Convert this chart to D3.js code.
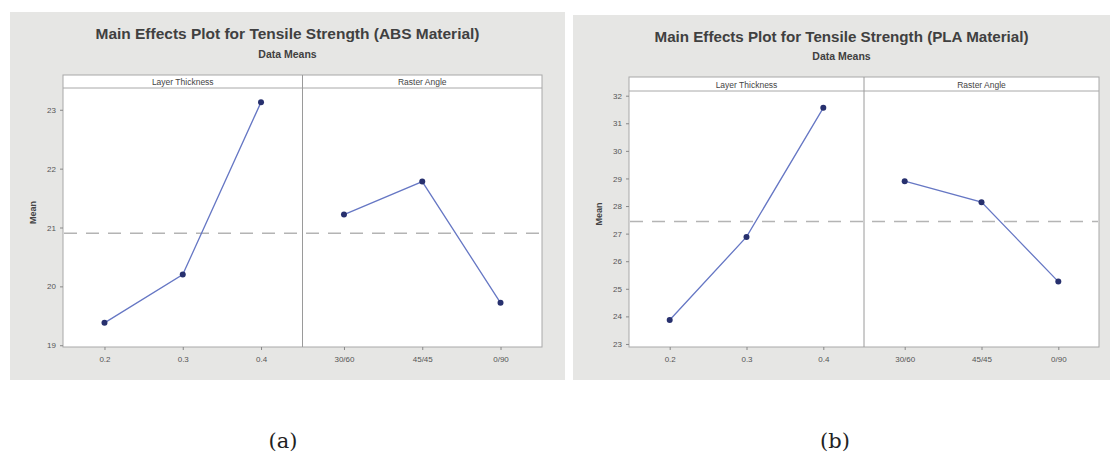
<!DOCTYPE html>
<html>
<head>
<meta charset="utf-8">
<script src="https://cdn.jsdelivr.net/npm/d3@7"></script>
<style>
  html, body { margin: 0; padding: 0; background: #ffffff; }
  svg { display: block; }
  text { font-family: "Liberation Sans", Arial, sans-serif; }
</style>
</head>
<body>
<svg id="chart" width="1110" height="462"></svg>
<script>
// ---- Data ----
const factorNames = ["Layer Thickness", "Raster Angle"];
const layerLevels = ["0.2", "0.3", "0.4"];
const rasterLevels = ["30/60", "45/45", "0/90"];

const absLayer = [19.38, 20.20, 23.13];
const absRaster = [21.22, 21.78, 19.72];
const plaLayer = [23.87, 26.88, 31.56];
const plaRaster = [28.90, 28.14, 25.26];

const absTicks = [19, 20, 21, 22, 23];
const plaTicks = [23, 24, 25, 26, 27, 28, 29, 30, 31, 32];

const titles = [
  "Main Effects Plot for Tensile Strength (ABS Material)",
  "Main Effects Plot for Tensile Strength (PLA Material)"
];
const subtitle = "Data Means";
const yLabel = "Mean";
const captions = ["(a)", "(b)"];

// ---- Layout ----
const svg = d3.select("#chart");

const panels = [
  {
    bg: {x: 10, y: 12, w: 555, h: 368},
    plot: {x0: 63, x1: 542, top: 75, strip: 88, bottom: 347},
    yDomain: [18.97, 23.37],
    ticks: absTicks,
    layer: absLayer, raster: absRaster,
    title: titles[0], titleY: 39, titleW: 384, subY: 58, caption: captions[0], capX: 283
  },
  {
    bg: {x: 573, y: 15, w: 537, h: 365},
    plot: {x0: 629, x1: 1099, top: 77, strip: 91, bottom: 347},
    yDomain: [22.89, 32.17],
    ticks: plaTicks,
    layer: plaLayer, raster: plaRaster,
    title: titles[1], titleY: 42, titleW: 374, subY: 60, caption: captions[1], capX: 835
  }
];

panels.forEach(p => {
  const g = svg.append("g");
  const P = p.plot;
  const mid = (P.x0 + P.x1) / 2;
  const bgMid = p.bg.x + p.bg.w / 2;

  g.append("rect")
    .attr("x", p.bg.x).attr("y", p.bg.y)
    .attr("width", p.bg.w).attr("height", p.bg.h)
    .attr("fill", "#e6e6e4");

  // titles
  g.append("text")
    .attr("x", bgMid).attr("y", p.titleY)
    .attr("text-anchor", "middle")
    .attr("font-size", 15).attr("font-weight", "bold").attr("fill", "#404040")
    .attr("textLength", p.titleW).attr("lengthAdjust", "spacingAndGlyphs")
    .text(p.title);
  g.append("text")
    .attr("x", bgMid).attr("y", p.subY)
    .attr("text-anchor", "middle")
    .attr("font-size", 10.5).attr("font-weight", "bold").attr("fill", "#404040")
    .text(subtitle);

  // plot area
  g.append("rect")
    .attr("x", P.x0).attr("y", P.top)
    .attr("width", P.x1 - P.x0).attr("height", P.bottom - P.top)
    .attr("fill", "#ffffff").attr("stroke", "#a8a8a8").attr("stroke-width", 1);
  g.append("line")
    .attr("x1", P.x0).attr("x2", P.x1).attr("y1", P.strip).attr("y2", P.strip)
    .attr("stroke", "#a8a8a8");
  g.append("line")
    .attr("x1", mid).attr("x2", mid).attr("y1", P.top).attr("y2", P.bottom)
    .attr("stroke", "#9a9a9a");

  // strip labels
  [[P.x0, mid], [mid, P.x1]].forEach((r, i) => {
    g.append("text")
      .attr("x", (r[0] + r[1]) / 2).attr("y", P.strip - 3.5)
      .attr("text-anchor", "middle")
      .attr("font-size", 8.5).attr("fill", "#444")
      .text(factorNames[i]);
  });

  // y scale & axis
  const y = d3.scaleLinear().domain(p.yDomain).range([P.bottom, P.strip]);
  const yAxis = g.append("g")
    .attr("transform", `translate(${P.x0},0)`)
    .call(d3.axisLeft(y).tickValues(p.ticks).tickSize(3).tickPadding(4).tickFormat(d3.format("d")));
  yAxis.select(".domain").remove();
  yAxis.selectAll("line").attr("stroke", "#888");
  yAxis.selectAll("text").attr("font-size", 8).attr("fill", "#555")
    .style("font-family", "'Liberation Sans', Arial, sans-serif");

  g.append("text")
    .attr("transform", `translate(${P.x0 - 27},${(P.strip + P.bottom) / 2 - 5}) rotate(-90)`)
    .attr("text-anchor", "middle")
    .attr("font-size", 9).attr("font-weight", "bold").attr("fill", "#444")
    .text(yLabel);

  // grand mean
  const grandMean = d3.mean(p.layer);

  const groups = [
    {levels: layerLevels, values: p.layer, range: [P.x0, mid]},
    {levels: rasterLevels, values: p.raster, range: [mid, P.x1]}
  ];

  // dashed reference line
  g.append("line")
    .attr("x1", P.x0 + 1).attr("x2", P.x1 - 1)
    .attr("y1", y(grandMean)).attr("y2", y(grandMean))
    .attr("stroke", "#b4b4b4").attr("stroke-width", 1.6)
    .attr("stroke-dasharray", "13,9");

  groups.forEach(gr => {
    const x = d3.scalePoint().domain(gr.levels).range(gr.range).padding(0.53);
    const xAxis = g.append("g")
      .attr("transform", `translate(0,${P.bottom})`)
      .call(d3.axisBottom(x).tickSize(3).tickPadding(6));
    xAxis.select(".domain").remove();
    xAxis.selectAll("line").attr("stroke", "#888");
    xAxis.selectAll("text").attr("font-size", 8).attr("fill", "#555")
      .style("font-family", "'Liberation Sans', Arial, sans-serif");

    const pts = gr.levels.map((l, i) => [x(l), y(gr.values[i])]);
    g.append("path")
      .attr("d", d3.line()(pts))
      .attr("fill", "none")
      .attr("stroke", "#6677c4").attr("stroke-width", 1.3);
    g.selectAll(null).data(pts).enter().append("circle")
      .attr("cx", d => d[0]).attr("cy", d => d[1]).attr("r", 3)
      .attr("fill", "#27306e");
  });

  // caption
  svg.append("text")
    .attr("x", p.capX).attr("y", 448)
    .attr("text-anchor", "middle")
    .attr("font-size", 21).attr("fill", "#222")
    .style("font-family", "'DejaVu Serif', 'Liberation Serif', serif")
    .text(p.caption);
});
</script>
</body>
</html>
